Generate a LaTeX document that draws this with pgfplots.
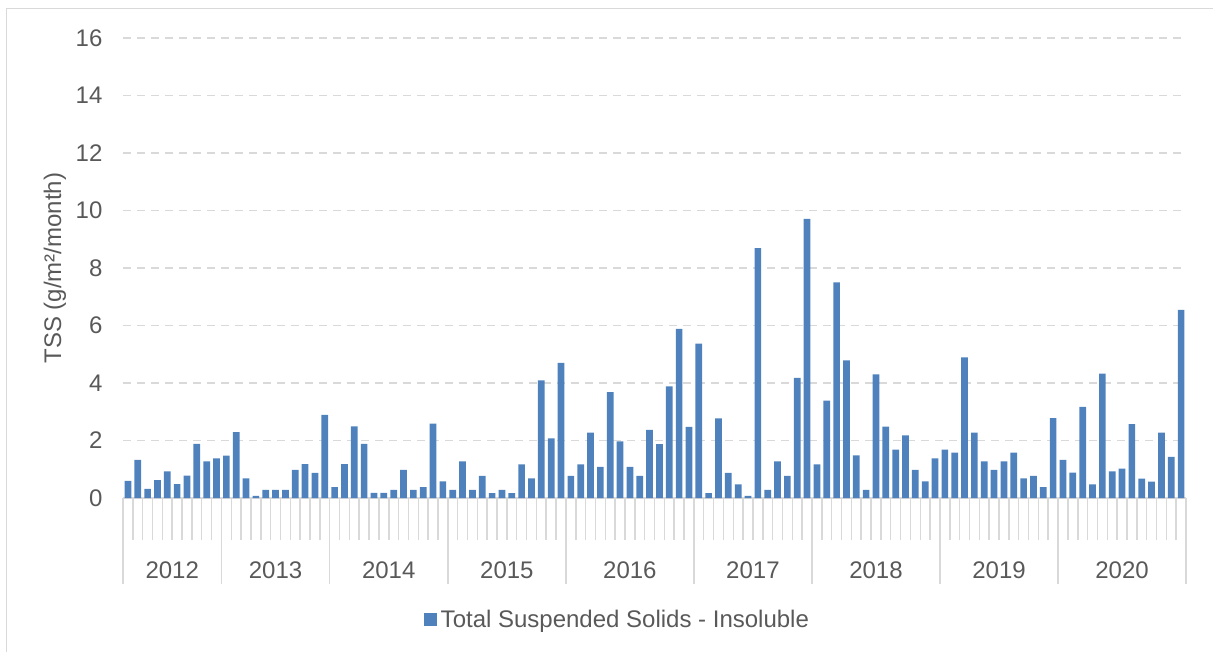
\documentclass[border=0pt]{standalone}
\usepackage{fontspec}
\setmainfont{Liberation Sans}
\usepackage{pgfplots}
\usepackage{pgfplotstable}
\pgfplotsset{compat=1.18}

\definecolor{barblue}{HTML}{4F81BD}
\definecolor{txtgray}{HTML}{595959}
\definecolor{linegray}{HTML}{D9D9D9}

% monthly TSS, 2012 (10 months) ... 2020 (13 bars)
\pgfplotstableread{
idx val
0 0.60
1 1.33
2 0.32
3 0.62
4 0.93
5 0.48
6 0.78
7 1.88
8 1.27
9 1.38
10 1.47
11 2.29
12 0.68
13 0.07
14 0.28
15 0.28
16 0.28
17 0.98
18 1.18
19 0.87
20 2.89
21 0.38
22 1.18
23 2.49
24 1.88
25 0.18
26 0.18
27 0.28
28 0.98
29 0.28
30 0.38
31 2.59
32 0.58
33 0.28
34 1.27
35 0.28
36 0.77
37 0.17
38 0.28
39 0.17
40 1.17
41 0.68
42 4.09
43 2.07
44 4.70
45 0.77
46 1.17
47 2.27
48 1.08
49 3.68
50 1.97
51 1.08
52 0.77
53 2.37
54 1.87
55 3.88
56 5.88
57 2.47
58 5.37
59 0.17
60 2.77
61 0.87
62 0.47
63 0.07
64 8.69
65 0.28
66 1.27
67 0.77
68 4.18
69 9.71
70 1.17
71 3.39
72 7.50
73 4.79
74 1.48
75 0.28
76 4.30
77 2.48
78 1.68
79 2.18
80 0.98
81 0.58
82 1.38
83 1.68
84 1.58
85 4.89
86 2.27
87 1.27
88 0.98
89 1.27
90 1.58
91 0.68
92 0.77
93 0.38
94 2.78
95 1.33
96 0.88
97 3.17
98 0.47
99 4.33
100 0.93
101 1.02
102 2.57
103 0.67
104 0.57
105 2.27
106 1.43
107 6.54
}\tss

\begin{document}
\begin{tikzpicture}
% picture frame: 1px = 0.5pt, axis lower-left at (0,0)
\useasboundingbox (-61.5pt,-77pt) rectangle (545pt,249pt);
\draw[linegray, line width=0.5pt] (-58pt,-77pt) -- (-58pt,244.5pt) -- (545pt,244.5pt);
\begin{axis}[
  scale only axis,
  width=531.5pt,
  height=230pt,
  font=\fontsize{12}{14}\selectfont,
  /pgf/number format/assume math mode=true,
  ybar,
  bar width=0.68,
  bar shift=0pt,
  xmin=-0.5, xmax=107.5,
  ymin=0, ymax=16,
  ytick={0,2,...,16},
  axis x line*=bottom,
  axis y line*=left,
  y axis line style={draw=none},
  x axis line style={linegray, line width=0.75pt},
  ymajorgrids,
  grid style={linegray, line width=0.75pt, dash pattern=on 4pt off 3pt},
  ytick style={draw=none},
  yticklabel style={text=txtgray, xshift=-2.5pt},
  xtick={4.5,15,26.5,38.5,51,63.5,76,88.5,101},
  xticklabels={2012,2013,2014,2015,2016,2017,2018,2019,2020},
  xticklabel style={text=txtgray, anchor=center, yshift=-32pt},
  major x tick style={draw=none},
  tick align=outside,
  minor xtick={-0.5,0.5,...,107.5},
  minor x tick style={linegray, line width=0.75pt},
  minor tick length=21pt,
  extra x ticks={-0.5,9.5,20.5,32.5,44.5,57.5,69.5,82.5,94.5,107.5},
  extra x tick labels={},
  extra x tick style={major tick length=43pt, major x tick style={linegray, line width=0.75pt, draw=linegray}},
  ylabel={TSS (g/m²/month)},
  ylabel style={text=txtgray, at={(axis description cs:-0.064,0.5)}, anchor=center},
  legend style={at={(0.466,-0.265)}, anchor=center, draw=none, fill=none,
    text=txtgray, font=\fontsize{12}{14}\selectfont},
  legend image code/.code={\fill[barblue] (0pt,-3.25pt) rectangle (6.5pt,3.25pt);},
  clip=false,
]
\addplot[fill=barblue, draw=none] table[x=idx, y=val] {\tss};
\addlegendentry{Total Suspended Solids - Insoluble}
\end{axis}
\end{tikzpicture}
\end{document}
